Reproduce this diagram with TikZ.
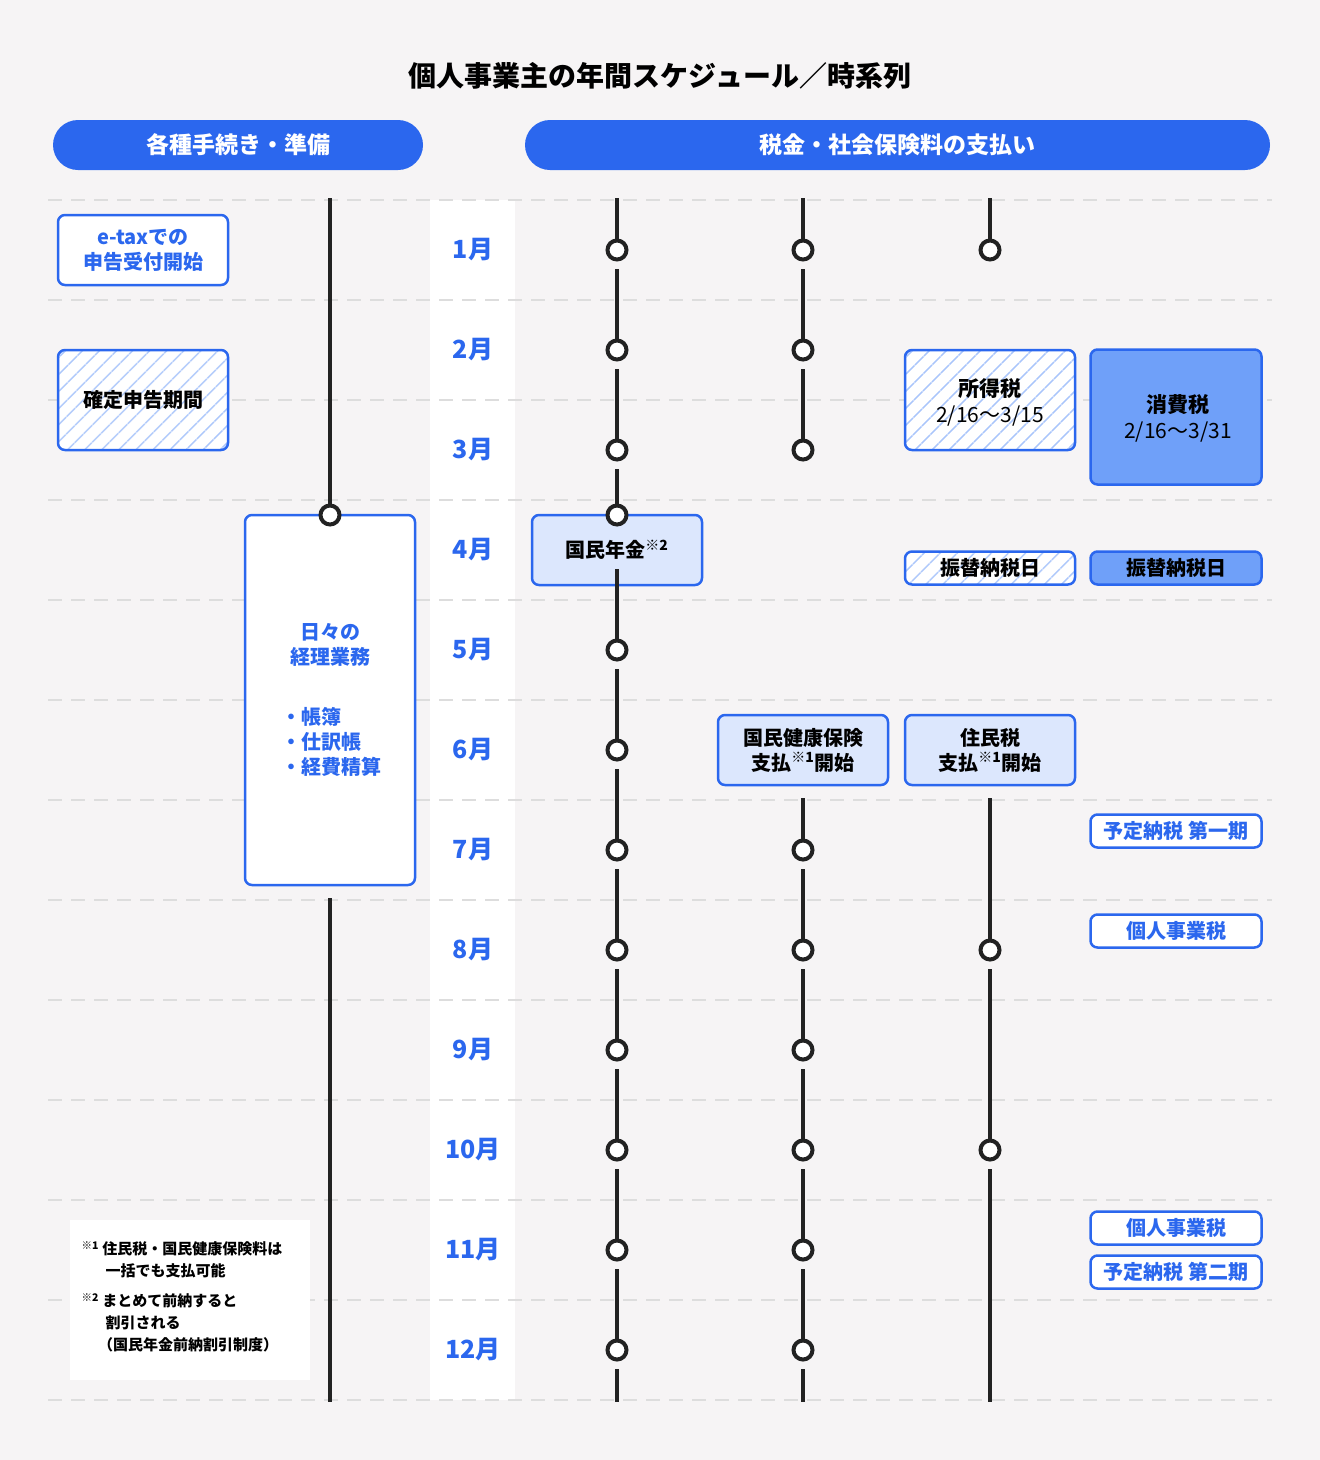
\documentclass[tikz,border=0pt]{standalone}
\usepackage{fontspec}
\setmainfont{Noto Sans CJK JP}
\usetikzlibrary{patterns.meta}
\definecolor{bg}{HTML}{F6F4F5}
\definecolor{bl}{HTML}{2B67EE}
\definecolor{lb}{HTML}{DCE7FD}
\definecolor{mb}{HTML}{6FA0F9}
\definecolor{dk}{HTML}{222222}
\definecolor{gl}{HTML}{DDDDDD}
\definecolor{hb}{HTML}{A9C5FB}
\tikzset{
  box/.style={draw=bl,line width=2.5pt,rounded corners=7pt},
  wbox/.style={box,fill=white},
  lbox/.style={box,fill=lb},
  mbox/.style={box,fill=mb},
  hbox/.style={box,preaction={fill=white},pattern={Lines[angle=45,distance=13pt,line width=1.8pt]},pattern color=hb},
  tl/.style={dk,line width=4pt},
  dot/.style={circle,draw=dk,line width=4pt,fill=white,minimum size=19pt,inner sep=0pt},
  mon/.style={text=bl,font=\fontsize{25}{28}\selectfont\bfseries},
  bt/.style={align=center,font=\fontsize{20}{25}\selectfont\bfseries},
  pill/.style={fill=bl,rounded corners=25pt,text=white,font=\fontsize{23}{28}\selectfont\bfseries}
}
\begin{document}
\begin{tikzpicture}[x=1pt,y=-1pt]
\fill[bg] (0,0) rectangle (1320,1460);
\useasboundingbox (0,0) rectangle (1320,1460);
\node[font=\fontsize{28}{32}\selectfont\bfseries] (title) at (660,76) {個人事業主の年間スケジュール／時系列};
\fill[pill] (53,120) rectangle (423,170);
\node[text=white,font=\fontsize{23}{28}\selectfont\bfseries] (h1) at (238,145) {各種手続き・準備};
\fill[pill] (525,120) rectangle (1270,170);
\node[text=white,font=\fontsize{23}{28}\selectfont\bfseries] (h2) at (897,145) {税金・社会保険料の支払い};
\fill[white] (430,200) rectangle (515,1400);
\foreach \y in {200,300,...,1400}{\draw[gl,line width=2.5pt,dash pattern=on 14pt off 9pt] (48,\y) -- (1272,\y);}
\foreach \m [count=\i] in {1,...,12}{\node[mon] (m\i) at (473,150+100*\i) {\m 月};}
% left column
\node[wbox,minimum width=170pt,minimum height=370pt] (daily) at (330,700) {};
\draw[tl] (330,198) -- (330,505);
\node[dot] (dL) at (330,515) {};
\draw[tl] (330,898) -- (330,1402);
\node[text=bl,bt,align=center] (dtx) at (330,645) {日々の\\経理業務};
\node[text=bl,bt,align=left,anchor=west] (dlist) at (278,742) {・帳簿\\・仕訳帳\\・経費精算};
\node[wbox,minimum width=170pt,minimum height=70pt] (etax) at (143,250) {};
\node[text=bl,bt] at (143,250) {e-taxでの\\申告受付開始};
\node[hbox,minimum width=170pt,minimum height=100pt] (kakutei) at (143,400) {};
\node[bt] at (143,400) {確定申告期間};
\node[fill=white,minimum width=240pt,minimum height=160pt] (note) at (190,1300) {};
\node[anchor=north west,align=left,font=\fontsize{15}{22}\selectfont\bfseries] (nt) at (78,1238) {\textsuperscript{※1} 住民税・国民健康保険料は\\\hspace{1.6em}一括でも支払可能};
\node[anchor=north west,align=left,font=\fontsize{15}{22}\selectfont\bfseries] (nt2) at (78,1290) {\textsuperscript{※2} まとめて前納すると\\\hspace{1.6em}割引される\\\hspace{1.1em}（国民年金前納割引制度）};
% column 1
\draw[tl] (617,198) -- (617,240);
\foreach \y in {250,350,450}{\node[dot] (a\y) at (617,\y) {};}
\draw[tl] (617,269) -- (617,340);
\draw[tl] (617,369) -- (617,440);
\draw[tl] (617,469) -- (617,505);
\node[lbox,minimum width=170pt,minimum height=70pt] (nenkin) at (617,550) {};
\node[bt] at (617,550) {国民年金\textsuperscript{※2}};
\node[dot] (a515) at (617,515) {};
\foreach \y in {650,750,...,1350}{\node[dot] (a\y) at (617,\y) {}; \draw[tl] (617,\y-81) -- (617,\y-10);}
\draw[tl] (617,1369) -- (617,1402);
% column 2
\draw[tl] (803,198) -- (803,240);
\foreach \y in {250,350,450}{\node[dot] (b\y) at (803,\y) {};}
\draw[tl] (803,269) -- (803,340);
\draw[tl] (803,369) -- (803,440);
\node[lbox,minimum width=170pt,minimum height=70pt] (kenpo) at (803,750) {};
\node[bt] at (803,750) {国民健康保険\\支払\textsuperscript{※1}開始};
\draw[tl] (803,798) -- (803,840);
\foreach \y in {850,950,...,1350}{\node[dot] (b\y) at (803,\y) {};}
\foreach \y in {950,1050,...,1350}{\draw[tl] (803,\y-81) -- (803,\y-10);}
\draw[tl] (803,1369) -- (803,1402);
% column 3
\draw[tl] (990,198) -- (990,240);
\node[dot] (c250) at (990,250) {};
\node[hbox,minimum width=170pt,minimum height=100pt] (shotoku) at (990,400) {};
\node[bt,font=\fontsize{21}{26}\selectfont] at (990,402) {\textbf{所得税}\\\mdseries 2/16〜3/15};
\node[hbox,minimum width=170pt,minimum height=33pt] (furi1) at (990,568) {};
\node[bt] at (990,568) {振替納税日};
\node[lbox,minimum width=170pt,minimum height=70pt] (jumin) at (990,750) {};
\node[bt] at (990,750) {住民税\\支払\textsuperscript{※1}開始};
\draw[tl] (990,798) -- (990,940);
\node[dot] (c950) at (990,950) {};
\draw[tl] (990,969) -- (990,1140);
\node[dot] (c1150) at (990,1150) {};
\draw[tl] (990,1169) -- (990,1402);
% column 4
\node[mbox,minimum width=171pt,minimum height=135pt] (shohi) at (1176,417) {};
\node[bt,font=\fontsize{21}{26}\selectfont] at (1178,418) {\textbf{消費税}\\\mdseries 2/16〜3/31};
\node[mbox,minimum width=171pt,minimum height=33pt] (furi2) at (1176,568) {};
\node[bt] at (1176,568) {振替納税日};
\node[wbox,minimum width=171pt,minimum height=33pt,text=bl,bt] (y1) at (1176,831) {予定納税 第一期};
\node[wbox,minimum width=171pt,minimum height=33pt,text=bl,bt] (k1) at (1176,931) {個人事業税};
\node[wbox,minimum width=171pt,minimum height=33pt,text=bl,bt] (k2) at (1176,1228) {個人事業税};
\node[wbox,minimum width=171pt,minimum height=33pt,text=bl,bt] (y2) at (1176,1272) {予定納税 第二期};
\end{tikzpicture}
\end{document}
